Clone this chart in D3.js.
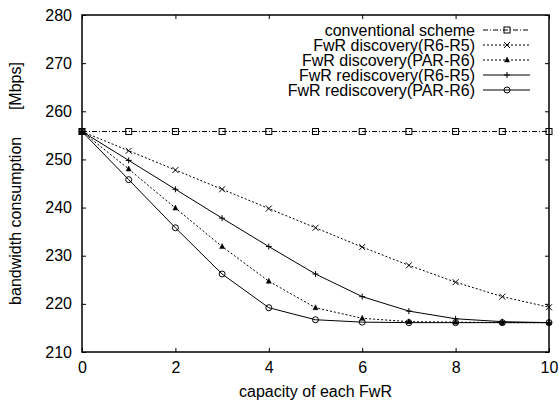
<!DOCTYPE html>
<html>
<head>
<meta charset="utf-8">
<script src="https://cdn.jsdelivr.net/npm/d3@7"></script>
<style>
  body { margin: 0; background: #fff; }
  text { font-family: "Liberation Sans", Arial, sans-serif; fill: #000; }
</style>
</head>
<body>
<div id="chart"></div>
<script>
const margin = { top: 15, right: 10, bottom: 49, left: 82 };
const width = 559 - margin.left - margin.right;
const height = 401 - margin.top - margin.bottom;

const capacity = [0, 1, 2, 3, 4, 5, 6, 7, 8, 9, 10];
const conventional = [255.8, 255.8, 255.8, 255.8, 255.8, 255.8, 255.8, 255.8, 255.8, 255.8, 255.8];
const discoveryR6R5 = [255.8, 251.8, 247.8, 243.8, 239.8, 235.8, 231.8, 228.0, 224.5, 221.5, 219.3];
const discoveryPARR6 = [255.8, 248.0, 239.9, 231.9, 224.7, 219.2, 217.0, 216.3, 216.2, 216.1, 216.1];
const rediscoveryR6R5 = [255.8, 249.8, 243.8, 237.8, 231.9, 226.2, 221.5, 218.5, 216.9, 216.3, 216.1];
const rediscoveryPARR6 = [255.8, 245.8, 235.8, 226.2, 219.2, 216.7, 216.2, 216.1, 216.1, 216.1, 216.1];
const xTicks = [0, 2, 4, 6, 8, 10];
const yTicks = [210, 220, 230, 240, 250, 260, 270, 280];

const series = [
  { name: "conventional scheme", values: conventional, dash: "5,2,1,2", marker: "square" },
  { name: "FwR discovery(R6-R5)", values: discoveryR6R5, dash: "2,2", marker: "cross" },
  { name: "FwR discovery(PAR-R6)", values: discoveryPARR6, dash: "2,2", marker: "triangle" },
  { name: "FwR rediscovery(R6-R5)", values: rediscoveryR6R5, dash: null, marker: "plus" },
  { name: "FwR rediscovery(PAR-R6)", values: rediscoveryPARR6, dash: null, marker: "circle" }
];

const svg = d3.select("#chart").append("svg")
  .attr("width", width + margin.left + margin.right)
  .attr("height", height + margin.top + margin.bottom)
  .append("g")
  .attr("transform", `translate(${margin.left},${margin.top})`);

const x = d3.scaleLinear().domain([0, 10]).range([0, width]);
const y = d3.scaleLinear().domain([210, 280]).range([height, 0]);

// mirrored inward ticks like gnuplot
function styleAxis(g) {
  g.select(".domain").remove();
  g.selectAll("line").attr("stroke", "#000");
  g.selectAll("text").style("font-size", "16px");
}

svg.append("g")
  .attr("transform", `translate(0,${height})`)
  .call(d3.axisBottom(x).tickValues(xTicks).tickSize(-4).tickPadding(10))
  .call(styleAxis);

svg.append("g")
  .call(d3.axisTop(x).tickValues(xTicks).tickSize(-4).tickFormat(""))
  .call(styleAxis);

svg.append("g")
  .call(d3.axisLeft(y).tickValues(yTicks).tickSize(-4).tickPadding(10))
  .call(styleAxis);

svg.append("g")
  .attr("transform", `translate(${width},0)`)
  .call(d3.axisRight(y).tickValues(yTicks).tickSize(-4).tickFormat(""))
  .call(styleAxis);

svg.append("rect")
  .attr("width", width)
  .attr("height", height)
  .attr("fill", "none")
  .attr("stroke", "#000")
  .attr("stroke-width", 1.5);

function drawMarker(g, type, cx, cy) {
  const s = 3;
  if (type === "square") {
    g.append("rect").attr("x", cx - s).attr("y", cy - s).attr("width", 2 * s).attr("height", 2 * s)
      .attr("fill", "none").attr("stroke", "#000");
  } else if (type === "cross") {
    g.append("path").attr("d", `M${cx - s},${cy - s}L${cx + s},${cy + s}M${cx - s},${cy + s}L${cx + s},${cy - s}`)
      .attr("stroke", "#000");
  } else if (type === "triangle") {
    const t = 2.5;
    g.append("path").attr("d", `M${cx},${cy - t - 0.5}L${cx + t},${cy + t - 0.5}L${cx - t},${cy + t - 0.5}Z`)
      .attr("fill", "#000").attr("stroke", "#000").attr("stroke-width", 0.5);
  } else if (type === "plus") {
    g.append("path").attr("d", `M${cx - s},${cy}L${cx + s},${cy}M${cx},${cy - s}L${cx},${cy + s}`)
      .attr("stroke", "#000");
  } else if (type === "circle") {
    g.append("circle").attr("cx", cx).attr("cy", cy).attr("r", s)
      .attr("fill", "none").attr("stroke", "#000");
  }
}

const line = d3.line()
  .x((d, i) => x(capacity[i]))
  .y(d => y(d));

series.forEach(s => {
  svg.append("path")
    .datum(s.values)
    .attr("fill", "none")
    .attr("stroke", "#000")
    .attr("stroke-width", 1)
    .attr("stroke-dasharray", s.dash)
    .attr("d", line);
  const mg = svg.append("g");
  s.values.forEach((v, i) => drawMarker(mg, s.marker, x(capacity[i]), y(v)));
});

// legend
const legend = svg.append("g").attr("transform", `translate(${width - 66},15)`);
series.forEach((s, i) => {
  const row = legend.append("g").attr("transform", `translate(0,${i * 15})`);
  row.append("text")
    .attr("x", -8)
    .attr("y", 0)
    .attr("dy", "0.35em")
    .style("text-anchor", "end")
    .style("font-size", "16px")
    .text(s.name);
  row.append("line")
    .attr("x1", 0).attr("x2", 47)
    .attr("y1", 0).attr("y2", 0)
    .attr("stroke", "#000")
    .attr("stroke-dasharray", s.dash);
  drawMarker(row, s.marker, 24, 0);
});

svg.append("text")
  .attr("x", width / 2)
  .attr("y", height + 45)
  .style("text-anchor", "middle")
  .style("font-size", "16px")
  .text("capacity of each FwR");

svg.append("text")
  .attr("transform", "rotate(-90)")
  .attr("x", -height / 2)
  .attr("y", -margin.left + 21)
  .style("text-anchor", "middle")
  .style("font-size", "16px")
  .style("white-space", "pre")
  .text("bandwidth consumption      [Mbps]");
</script>
</body>
</html>
